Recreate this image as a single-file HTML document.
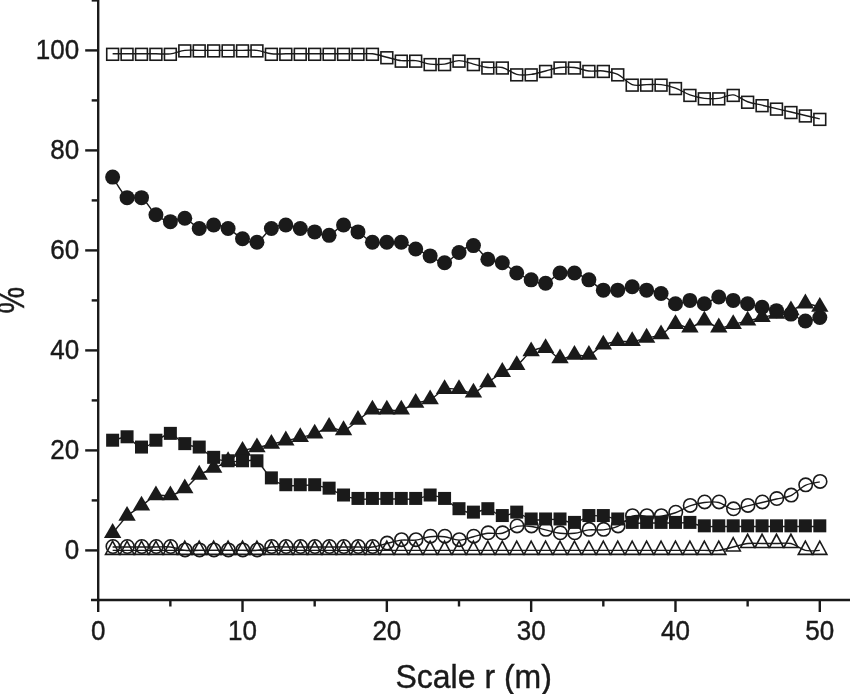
<!DOCTYPE html>
<html><head><meta charset="utf-8"><title>Scale r (m)</title>
<style>html,body{margin:0;padding:0;background:#fff}svg{display:block}text{font-family:"Liberation Sans",sans-serif;fill:#1a1a1a}.t{stroke:#1a1a1a;stroke-width:.4px}</style>
</head><body>
<svg width="850" height="694" viewBox="0 0 850 694">
<rect width="850" height="694" fill="#fff"/>
<path d="M112.63 53.82C115.04 53.82 122.25 53.82 127.06 53.82C131.87 53.82 136.69 53.82 141.50 53.82C146.31 53.82 151.12 53.82 155.93 53.82C160.74 53.82 165.55 54.40 170.36 53.82C175.17 53.25 179.98 50.97 184.79 50.40C189.60 49.83 194.41 50.40 199.22 50.40C204.03 50.40 208.85 50.40 213.66 50.40C218.47 50.40 223.28 50.40 228.09 50.40C232.90 50.40 237.71 50.40 242.52 50.40C247.33 50.40 252.14 49.83 256.95 50.40C261.76 50.97 266.57 53.25 271.38 53.82C276.19 54.40 281.01 53.82 285.82 53.82C290.63 53.82 295.44 53.82 300.25 53.82C305.06 53.82 309.87 53.82 314.68 53.82C319.49 53.82 324.30 53.82 329.11 53.82C333.92 53.82 338.73 53.82 343.54 53.82C348.35 53.82 353.17 53.82 357.98 53.82C362.79 53.82 367.60 53.25 372.41 53.82C377.22 54.40 382.03 56.11 386.84 57.25C391.65 58.39 396.46 60.10 401.27 60.67C406.08 61.24 410.89 60.10 415.70 60.67C420.51 61.24 425.33 63.53 430.14 64.10C434.95 64.67 439.76 64.67 444.57 64.10C449.38 63.53 454.19 60.67 459.00 60.67C463.81 60.67 468.62 62.96 473.43 64.10C478.24 65.24 483.05 66.95 487.86 67.52C492.67 68.09 497.49 66.38 502.30 67.52C507.11 68.66 511.92 73.23 516.73 74.37C521.54 75.51 526.35 74.94 531.16 74.37C535.97 73.80 540.78 72.09 545.59 70.95C550.40 69.81 555.21 68.09 560.02 67.52C564.83 66.95 569.65 66.95 574.46 67.52C579.27 68.09 584.08 70.38 588.89 70.95C593.70 71.52 598.51 70.38 603.32 70.95C608.13 71.52 612.94 72.09 617.75 74.37C622.56 76.66 627.37 82.93 632.18 84.65C636.99 86.36 641.81 84.65 646.62 84.65C651.43 84.65 656.24 84.08 661.05 84.65C665.86 85.22 670.67 86.36 675.48 88.07C680.29 89.78 685.10 93.21 689.91 94.92C694.72 96.63 699.53 97.77 704.34 98.35C709.15 98.92 713.97 98.92 718.78 98.35C723.59 97.77 728.40 94.35 733.21 94.92C738.02 95.49 742.83 100.06 747.64 101.77C752.45 103.48 757.26 104.05 762.07 105.19C766.88 106.34 771.69 107.48 776.50 108.62C781.31 109.76 786.13 110.90 790.94 112.04C795.75 113.19 800.56 114.33 805.37 115.47C810.18 116.61 817.39 118.32 819.80 118.89" fill="none" stroke="#1a1a1a" stroke-width="1.4"/>
<g fill="none" stroke="#1a1a1a" stroke-width="1.6"><rect x="106.73" y="48.42" width="11.8" height="11.8"/><rect x="121.16" y="48.42" width="11.8" height="11.8"/><rect x="135.60" y="48.42" width="11.8" height="11.8"/><rect x="150.03" y="48.42" width="11.8" height="11.8"/><rect x="164.46" y="48.42" width="11.8" height="11.8"/><rect x="178.89" y="45.00" width="11.8" height="11.8"/><rect x="193.32" y="45.00" width="11.8" height="11.8"/><rect x="207.76" y="45.00" width="11.8" height="11.8"/><rect x="222.19" y="45.00" width="11.8" height="11.8"/><rect x="236.62" y="45.00" width="11.8" height="11.8"/><rect x="251.05" y="45.00" width="11.8" height="11.8"/><rect x="265.48" y="48.42" width="11.8" height="11.8"/><rect x="279.92" y="48.42" width="11.8" height="11.8"/><rect x="294.35" y="48.42" width="11.8" height="11.8"/><rect x="308.78" y="48.42" width="11.8" height="11.8"/><rect x="323.21" y="48.42" width="11.8" height="11.8"/><rect x="337.64" y="48.42" width="11.8" height="11.8"/><rect x="352.08" y="48.42" width="11.8" height="11.8"/><rect x="366.51" y="48.42" width="11.8" height="11.8"/><rect x="380.94" y="51.85" width="11.8" height="11.8"/><rect x="395.37" y="55.27" width="11.8" height="11.8"/><rect x="409.80" y="55.27" width="11.8" height="11.8"/><rect x="424.24" y="58.70" width="11.8" height="11.8"/><rect x="438.67" y="58.70" width="11.8" height="11.8"/><rect x="453.10" y="55.27" width="11.8" height="11.8"/><rect x="467.53" y="58.70" width="11.8" height="11.8"/><rect x="481.96" y="62.12" width="11.8" height="11.8"/><rect x="496.40" y="62.12" width="11.8" height="11.8"/><rect x="510.83" y="68.97" width="11.8" height="11.8"/><rect x="525.26" y="68.97" width="11.8" height="11.8"/><rect x="539.69" y="65.55" width="11.8" height="11.8"/><rect x="554.12" y="62.12" width="11.8" height="11.8"/><rect x="568.56" y="62.12" width="11.8" height="11.8"/><rect x="582.99" y="65.55" width="11.8" height="11.8"/><rect x="597.42" y="65.55" width="11.8" height="11.8"/><rect x="611.85" y="68.97" width="11.8" height="11.8"/><rect x="626.28" y="79.25" width="11.8" height="11.8"/><rect x="640.72" y="79.25" width="11.8" height="11.8"/><rect x="655.15" y="79.25" width="11.8" height="11.8"/><rect x="669.58" y="82.67" width="11.8" height="11.8"/><rect x="684.01" y="89.52" width="11.8" height="11.8"/><rect x="698.44" y="92.95" width="11.8" height="11.8"/><rect x="712.88" y="92.95" width="11.8" height="11.8"/><rect x="727.31" y="89.52" width="11.8" height="11.8"/><rect x="741.74" y="96.37" width="11.8" height="11.8"/><rect x="756.17" y="99.79" width="11.8" height="11.8"/><rect x="770.60" y="103.22" width="11.8" height="11.8"/><rect x="785.04" y="106.64" width="11.8" height="11.8"/><rect x="799.47" y="110.07" width="11.8" height="11.8"/><rect x="813.90" y="113.49" width="11.8" height="11.8"/></g>
<path d="M112.63 546.98C115.04 546.98 122.25 546.98 127.06 546.98C131.87 546.98 136.69 546.98 141.50 546.98C146.31 546.98 151.12 546.98 155.93 546.98C160.74 546.98 165.55 546.40 170.36 546.98C175.17 547.55 179.98 549.83 184.79 550.40C189.60 550.97 194.41 550.40 199.22 550.40C204.03 550.40 208.85 550.40 213.66 550.40C218.47 550.40 223.28 550.40 228.09 550.40C232.90 550.40 237.71 550.40 242.52 550.40C247.33 550.40 252.14 550.97 256.95 550.40C261.76 549.83 266.57 547.55 271.38 546.98C276.19 546.40 281.01 546.98 285.82 546.98C290.63 546.98 295.44 546.98 300.25 546.98C305.06 546.98 309.87 546.98 314.68 546.98C319.49 546.98 324.30 546.98 329.11 546.98C333.92 546.98 338.73 546.98 343.54 546.98C348.35 546.98 353.17 546.98 357.98 546.98C362.79 546.98 367.60 547.55 372.41 546.98C377.22 546.40 382.03 544.69 386.84 543.55C391.65 542.41 396.46 540.70 401.27 540.13C406.08 539.56 410.89 540.70 415.70 540.13C420.51 539.56 425.33 537.27 430.14 536.70C434.95 536.13 439.76 536.13 444.57 536.70C449.38 537.27 454.19 540.13 459.00 540.13C463.81 540.13 468.62 537.84 473.43 536.70C478.24 535.56 483.05 533.85 487.86 533.28C492.67 532.71 497.49 534.42 502.30 533.28C507.11 532.14 511.92 527.57 516.73 526.43C521.54 525.29 526.35 525.86 531.16 526.43C535.97 527.00 540.78 528.71 545.59 529.85C550.40 530.99 555.21 532.71 560.02 533.28C564.83 533.85 569.65 533.85 574.46 533.28C579.27 532.71 584.08 530.42 588.89 529.85C593.70 529.28 598.51 530.42 603.32 529.85C608.13 529.28 612.94 528.71 617.75 526.43C622.56 524.14 627.37 517.87 632.18 516.15C636.99 514.44 641.81 516.15 646.62 516.15C651.43 516.15 656.24 516.72 661.05 516.15C665.86 515.58 670.67 514.44 675.48 512.73C680.29 511.02 685.10 507.59 689.91 505.88C694.72 504.17 699.53 503.03 704.34 502.45C709.15 501.88 713.97 501.31 718.78 502.45C723.59 503.60 728.40 508.73 733.21 509.30C738.02 509.87 742.83 507.02 747.64 505.88C752.45 504.74 757.26 503.60 762.07 502.45C766.88 501.31 771.69 500.17 776.50 499.03C781.31 497.89 786.13 497.89 790.94 495.61C795.75 493.32 800.56 487.61 805.37 485.33C810.18 483.05 817.39 482.48 819.80 481.91" fill="none" stroke="#1a1a1a" stroke-width="1.4"/>
<g fill="none" stroke="#1a1a1a" stroke-width="1.6"><circle cx="112.93" cy="546.48" r="6.7"/><circle cx="127.36" cy="546.48" r="6.7"/><circle cx="141.80" cy="546.48" r="6.7"/><circle cx="156.23" cy="546.48" r="6.7"/><circle cx="170.66" cy="546.48" r="6.7"/><circle cx="185.09" cy="549.90" r="6.7"/><circle cx="199.52" cy="549.90" r="6.7"/><circle cx="213.96" cy="549.90" r="6.7"/><circle cx="228.39" cy="549.90" r="6.7"/><circle cx="242.82" cy="549.90" r="6.7"/><circle cx="257.25" cy="549.90" r="6.7"/><circle cx="271.68" cy="546.48" r="6.7"/><circle cx="286.12" cy="546.48" r="6.7"/><circle cx="300.55" cy="546.48" r="6.7"/><circle cx="314.98" cy="546.48" r="6.7"/><circle cx="329.41" cy="546.48" r="6.7"/><circle cx="343.84" cy="546.48" r="6.7"/><circle cx="358.28" cy="546.48" r="6.7"/><circle cx="372.71" cy="546.48" r="6.7"/><circle cx="387.14" cy="543.05" r="6.7"/><circle cx="401.57" cy="539.63" r="6.7"/><circle cx="416.00" cy="539.63" r="6.7"/><circle cx="430.44" cy="536.20" r="6.7"/><circle cx="444.87" cy="536.20" r="6.7"/><circle cx="459.30" cy="539.63" r="6.7"/><circle cx="473.73" cy="536.20" r="6.7"/><circle cx="488.16" cy="532.78" r="6.7"/><circle cx="502.60" cy="532.78" r="6.7"/><circle cx="517.03" cy="525.93" r="6.7"/><circle cx="531.46" cy="525.93" r="6.7"/><circle cx="545.89" cy="529.35" r="6.7"/><circle cx="560.32" cy="532.78" r="6.7"/><circle cx="574.76" cy="532.78" r="6.7"/><circle cx="589.19" cy="529.35" r="6.7"/><circle cx="603.62" cy="529.35" r="6.7"/><circle cx="618.05" cy="525.93" r="6.7"/><circle cx="632.48" cy="515.65" r="6.7"/><circle cx="646.92" cy="515.65" r="6.7"/><circle cx="661.35" cy="515.65" r="6.7"/><circle cx="675.78" cy="512.23" r="6.7"/><circle cx="690.21" cy="505.38" r="6.7"/><circle cx="704.64" cy="501.95" r="6.7"/><circle cx="719.08" cy="501.95" r="6.7"/><circle cx="733.51" cy="508.80" r="6.7"/><circle cx="747.94" cy="505.38" r="6.7"/><circle cx="762.37" cy="501.95" r="6.7"/><circle cx="776.80" cy="498.53" r="6.7"/><circle cx="791.24" cy="495.11" r="6.7"/><circle cx="805.67" cy="484.83" r="6.7"/><circle cx="820.10" cy="481.41" r="6.7"/></g>
<path d="M112.63 550.40C115.04 550.40 122.25 550.40 127.06 550.40C131.87 550.40 136.69 550.40 141.50 550.40C146.31 550.40 151.12 550.40 155.93 550.40C160.74 550.40 165.55 550.40 170.36 550.40C175.17 550.40 179.98 550.40 184.79 550.40C189.60 550.40 194.41 550.40 199.22 550.40C204.03 550.40 208.85 550.40 213.66 550.40C218.47 550.40 223.28 550.40 228.09 550.40C232.90 550.40 237.71 550.40 242.52 550.40C247.33 550.40 252.14 550.40 256.95 550.40C261.76 550.40 266.57 550.40 271.38 550.40C276.19 550.40 281.01 550.40 285.82 550.40C290.63 550.40 295.44 550.40 300.25 550.40C305.06 550.40 309.87 550.40 314.68 550.40C319.49 550.40 324.30 550.40 329.11 550.40C333.92 550.40 338.73 550.40 343.54 550.40C348.35 550.40 353.17 550.40 357.98 550.40C362.79 550.40 367.60 550.40 372.41 550.40C377.22 550.40 382.03 550.40 386.84 550.40C391.65 550.40 396.46 550.40 401.27 550.40C406.08 550.40 410.89 550.40 415.70 550.40C420.51 550.40 425.33 550.40 430.14 550.40C434.95 550.40 439.76 550.40 444.57 550.40C449.38 550.40 454.19 550.40 459.00 550.40C463.81 550.40 468.62 550.40 473.43 550.40C478.24 550.40 483.05 550.40 487.86 550.40C492.67 550.40 497.49 550.40 502.30 550.40C507.11 550.40 511.92 550.40 516.73 550.40C521.54 550.40 526.35 550.40 531.16 550.40C535.97 550.40 540.78 550.40 545.59 550.40C550.40 550.40 555.21 550.40 560.02 550.40C564.83 550.40 569.65 550.40 574.46 550.40C579.27 550.40 584.08 550.40 588.89 550.40C593.70 550.40 598.51 550.40 603.32 550.40C608.13 550.40 612.94 550.40 617.75 550.40C622.56 550.40 627.37 550.40 632.18 550.40C636.99 550.40 641.81 550.40 646.62 550.40C651.43 550.40 656.24 550.40 661.05 550.40C665.86 550.40 670.67 550.40 675.48 550.40C680.29 550.40 685.10 550.40 689.91 550.40C694.72 550.40 699.53 550.40 704.34 550.40C709.15 550.40 713.97 550.97 718.78 550.40C723.59 549.83 728.40 548.12 733.21 546.98C738.02 545.83 742.83 544.12 747.64 543.55C752.45 542.98 757.26 543.55 762.07 543.55C766.88 543.55 771.69 543.55 776.50 543.55C781.31 543.55 786.13 542.41 790.94 543.55C795.75 544.69 800.56 549.26 805.37 550.40C810.18 551.54 817.39 550.40 819.80 550.40" fill="none" stroke="#1a1a1a" stroke-width="1.4"/>
<g fill="none" stroke="#1a1a1a" stroke-width="1.6"><polygon points="112.63,541.10 105.53,554.40 119.73,554.40"/><polygon points="127.06,541.10 119.96,554.40 134.16,554.40"/><polygon points="141.50,541.10 134.40,554.40 148.60,554.40"/><polygon points="155.93,541.10 148.83,554.40 163.03,554.40"/><polygon points="170.36,541.10 163.26,554.40 177.46,554.40"/><polygon points="184.79,541.10 177.69,554.40 191.89,554.40"/><polygon points="199.22,541.10 192.12,554.40 206.32,554.40"/><polygon points="213.66,541.10 206.56,554.40 220.76,554.40"/><polygon points="228.09,541.10 220.99,554.40 235.19,554.40"/><polygon points="242.52,541.10 235.42,554.40 249.62,554.40"/><polygon points="256.95,541.10 249.85,554.40 264.05,554.40"/><polygon points="271.38,541.10 264.28,554.40 278.48,554.40"/><polygon points="285.82,541.10 278.72,554.40 292.92,554.40"/><polygon points="300.25,541.10 293.15,554.40 307.35,554.40"/><polygon points="314.68,541.10 307.58,554.40 321.78,554.40"/><polygon points="329.11,541.10 322.01,554.40 336.21,554.40"/><polygon points="343.54,541.10 336.44,554.40 350.64,554.40"/><polygon points="357.98,541.10 350.88,554.40 365.08,554.40"/><polygon points="372.41,541.10 365.31,554.40 379.51,554.40"/><polygon points="386.84,541.10 379.74,554.40 393.94,554.40"/><polygon points="401.27,541.10 394.17,554.40 408.37,554.40"/><polygon points="415.70,541.10 408.60,554.40 422.80,554.40"/><polygon points="430.14,541.10 423.04,554.40 437.24,554.40"/><polygon points="444.57,541.10 437.47,554.40 451.67,554.40"/><polygon points="459.00,541.10 451.90,554.40 466.10,554.40"/><polygon points="473.43,541.10 466.33,554.40 480.53,554.40"/><polygon points="487.86,541.10 480.76,554.40 494.96,554.40"/><polygon points="502.30,541.10 495.20,554.40 509.40,554.40"/><polygon points="516.73,541.10 509.63,554.40 523.83,554.40"/><polygon points="531.16,541.10 524.06,554.40 538.26,554.40"/><polygon points="545.59,541.10 538.49,554.40 552.69,554.40"/><polygon points="560.02,541.10 552.92,554.40 567.12,554.40"/><polygon points="574.46,541.10 567.36,554.40 581.56,554.40"/><polygon points="588.89,541.10 581.79,554.40 595.99,554.40"/><polygon points="603.32,541.10 596.22,554.40 610.42,554.40"/><polygon points="617.75,541.10 610.65,554.40 624.85,554.40"/><polygon points="632.18,541.10 625.08,554.40 639.28,554.40"/><polygon points="646.62,541.10 639.52,554.40 653.72,554.40"/><polygon points="661.05,541.10 653.95,554.40 668.15,554.40"/><polygon points="675.48,541.10 668.38,554.40 682.58,554.40"/><polygon points="689.91,541.10 682.81,554.40 697.01,554.40"/><polygon points="704.34,541.10 697.24,554.40 711.44,554.40"/><polygon points="718.78,541.10 711.68,554.40 725.88,554.40"/><polygon points="733.21,537.68 726.11,550.98 740.31,550.98"/><polygon points="747.64,534.25 740.54,547.55 754.74,547.55"/><polygon points="762.07,534.25 754.97,547.55 769.17,547.55"/><polygon points="776.50,534.25 769.40,547.55 783.60,547.55"/><polygon points="790.94,534.25 783.84,547.55 798.04,547.55"/><polygon points="805.37,541.10 798.27,554.40 812.47,554.40"/><polygon points="819.80,541.10 812.70,554.40 826.90,554.40"/></g>
<path d="M112.63 177.11C115.04 180.54 122.25 194.24 127.06 197.66C131.87 201.08 136.69 194.81 141.50 197.66C146.31 200.51 151.12 210.79 155.93 214.78C160.74 218.78 165.55 221.06 170.36 221.63C175.17 222.20 179.98 217.07 184.79 218.21C189.60 219.35 194.41 227.34 199.22 228.48C204.03 229.62 208.85 225.06 213.66 225.06C218.47 225.06 223.28 226.20 228.09 228.48C232.90 230.77 237.71 236.47 242.52 238.76C247.33 241.04 252.14 243.89 256.95 242.18C261.76 240.47 266.57 231.34 271.38 228.48C276.19 225.63 281.01 225.06 285.82 225.06C290.63 225.06 295.44 227.34 300.25 228.48C305.06 229.62 309.87 230.77 314.68 231.91C319.49 233.05 324.30 236.47 329.11 235.33C333.92 234.19 338.73 225.63 343.54 225.06C348.35 224.49 353.17 229.05 357.98 231.91C362.79 234.76 367.60 240.47 372.41 242.18C377.22 243.89 382.03 242.18 386.84 242.18C391.65 242.18 396.46 241.04 401.27 242.18C406.08 243.32 410.89 246.75 415.70 249.03C420.51 251.31 425.33 253.60 430.14 255.88C434.95 258.16 439.76 263.30 444.57 262.73C449.38 262.16 454.19 255.31 459.00 252.45C463.81 249.60 468.62 244.46 473.43 245.61C478.24 246.75 483.05 256.45 487.86 259.30C492.67 262.16 497.49 260.45 502.30 262.73C507.11 265.01 511.92 270.15 516.73 273.00C521.54 275.86 526.35 278.14 531.16 279.85C535.97 281.56 540.78 284.42 545.59 283.28C550.40 282.14 555.21 274.72 560.02 273.00C564.83 271.29 569.65 271.86 574.46 273.00C579.27 274.14 584.08 277.00 588.89 279.85C593.70 282.71 598.51 288.41 603.32 290.13C608.13 291.84 612.94 290.70 617.75 290.13C622.56 289.56 627.37 286.70 632.18 286.70C636.99 286.70 641.81 288.98 646.62 290.13C651.43 291.27 656.24 291.27 661.05 293.55C665.86 295.83 670.67 302.68 675.48 303.82C680.29 304.97 685.10 300.40 689.91 300.40C694.72 300.40 699.53 304.40 704.34 303.82C709.15 303.25 713.97 297.55 718.78 296.98C723.59 296.40 728.40 299.26 733.21 300.40C738.02 301.54 742.83 302.68 747.64 303.82C752.45 304.97 757.26 306.11 762.07 307.25C766.88 308.39 771.69 309.53 776.50 310.67C781.31 311.82 786.13 312.39 790.94 314.10C795.75 315.81 800.56 320.38 805.37 320.95C810.18 321.52 817.39 318.09 819.80 317.52" fill="none" stroke="#1a1a1a" stroke-width="1.4"/>
<g fill="#1a1a1a"><circle cx="112.63" cy="177.11" r="7.5"/><circle cx="127.06" cy="197.66" r="7.5"/><circle cx="141.50" cy="197.66" r="7.5"/><circle cx="155.93" cy="214.78" r="7.5"/><circle cx="170.36" cy="221.63" r="7.5"/><circle cx="184.79" cy="218.21" r="7.5"/><circle cx="199.22" cy="228.48" r="7.5"/><circle cx="213.66" cy="225.06" r="7.5"/><circle cx="228.09" cy="228.48" r="7.5"/><circle cx="242.52" cy="238.76" r="7.5"/><circle cx="256.95" cy="242.18" r="7.5"/><circle cx="271.38" cy="228.48" r="7.5"/><circle cx="285.82" cy="225.06" r="7.5"/><circle cx="300.25" cy="228.48" r="7.5"/><circle cx="314.68" cy="231.91" r="7.5"/><circle cx="329.11" cy="235.33" r="7.5"/><circle cx="343.54" cy="225.06" r="7.5"/><circle cx="357.98" cy="231.91" r="7.5"/><circle cx="372.41" cy="242.18" r="7.5"/><circle cx="386.84" cy="242.18" r="7.5"/><circle cx="401.27" cy="242.18" r="7.5"/><circle cx="415.70" cy="249.03" r="7.5"/><circle cx="430.14" cy="255.88" r="7.5"/><circle cx="444.57" cy="262.73" r="7.5"/><circle cx="459.00" cy="252.45" r="7.5"/><circle cx="473.43" cy="245.61" r="7.5"/><circle cx="487.86" cy="259.30" r="7.5"/><circle cx="502.30" cy="262.73" r="7.5"/><circle cx="516.73" cy="273.00" r="7.5"/><circle cx="531.16" cy="279.85" r="7.5"/><circle cx="545.59" cy="283.28" r="7.5"/><circle cx="560.02" cy="273.00" r="7.5"/><circle cx="574.46" cy="273.00" r="7.5"/><circle cx="588.89" cy="279.85" r="7.5"/><circle cx="603.32" cy="290.13" r="7.5"/><circle cx="617.75" cy="290.13" r="7.5"/><circle cx="632.18" cy="286.70" r="7.5"/><circle cx="646.62" cy="290.13" r="7.5"/><circle cx="661.05" cy="293.55" r="7.5"/><circle cx="675.48" cy="303.82" r="7.5"/><circle cx="689.91" cy="300.40" r="7.5"/><circle cx="704.34" cy="303.82" r="7.5"/><circle cx="718.78" cy="296.98" r="7.5"/><circle cx="733.21" cy="300.40" r="7.5"/><circle cx="747.64" cy="303.82" r="7.5"/><circle cx="762.07" cy="307.25" r="7.5"/><circle cx="776.50" cy="310.67" r="7.5"/><circle cx="790.94" cy="314.10" r="7.5"/><circle cx="805.37" cy="320.95" r="7.5"/><circle cx="819.80" cy="317.52" r="7.5"/></g>
<path d="M112.63 533.28C115.04 530.42 122.25 520.72 127.06 516.15C131.87 511.59 136.69 509.30 141.50 505.88C146.31 502.45 151.12 497.32 155.93 495.61C160.74 493.89 165.55 496.75 170.36 495.61C175.17 494.46 179.98 492.18 184.79 488.76C189.60 485.33 194.41 478.48 199.22 475.06C204.03 471.63 208.85 470.49 213.66 468.21C218.47 465.93 223.28 464.21 228.09 461.36C232.90 458.51 237.71 453.37 242.52 451.08C247.33 448.80 252.14 448.80 256.95 447.66C261.76 446.52 266.57 445.38 271.38 444.24C276.19 443.09 281.01 441.95 285.82 440.81C290.63 439.67 295.44 438.53 300.25 437.39C305.06 436.24 309.87 435.67 314.68 433.96C319.49 432.25 324.30 427.68 329.11 427.11C333.92 426.54 338.73 431.68 343.54 430.54C348.35 429.40 353.17 423.69 357.98 420.26C362.79 416.84 367.60 411.70 372.41 409.99C377.22 408.28 382.03 409.99 386.84 409.99C391.65 409.99 396.46 411.13 401.27 409.99C406.08 408.85 410.89 404.85 415.70 403.14C420.51 401.43 425.33 402.00 430.14 399.72C434.95 397.43 439.76 391.15 444.57 389.44C449.38 387.73 454.19 388.87 459.00 389.44C463.81 390.01 468.62 394.01 473.43 392.87C478.24 391.72 483.05 386.02 487.86 382.59C492.67 379.17 497.49 375.17 502.30 372.32C507.11 369.46 511.92 368.89 516.73 365.47C521.54 362.04 526.35 354.62 531.16 351.77C535.97 348.92 540.78 347.20 545.59 348.35C550.40 349.49 555.21 357.48 560.02 358.62C564.83 359.76 569.65 355.77 574.46 355.19C579.27 354.62 584.08 356.91 588.89 355.19C593.70 353.48 598.51 347.20 603.32 344.92C608.13 342.64 612.94 342.07 617.75 341.50C622.56 340.93 627.37 342.07 632.18 341.50C636.99 340.93 641.81 339.21 646.62 338.07C651.43 336.93 656.24 336.93 661.05 334.65C665.86 332.36 670.67 325.51 675.48 324.37C680.29 323.23 685.10 328.37 689.91 327.80C694.72 327.23 699.53 320.95 704.34 320.95C709.15 320.95 713.97 327.23 718.78 327.80C723.59 328.37 728.40 325.51 733.21 324.37C738.02 323.23 742.83 322.09 747.64 320.95C752.45 319.81 757.26 318.66 762.07 317.52C766.88 316.38 771.69 315.24 776.50 314.10C781.31 312.96 786.13 312.39 790.94 310.67C795.75 308.96 800.56 304.40 805.37 303.82C810.18 303.25 817.39 306.68 819.80 307.25" fill="none" stroke="#1a1a1a" stroke-width="1.4"/>
<g fill="#1a1a1a"><polygon points="112.63,523.08 103.93,537.88 121.33,537.88"/><polygon points="127.06,505.95 118.36,520.75 135.76,520.75"/><polygon points="141.50,495.68 132.80,510.48 150.20,510.48"/><polygon points="155.93,485.41 147.23,500.21 164.63,500.21"/><polygon points="170.36,485.41 161.66,500.21 179.06,500.21"/><polygon points="184.79,478.56 176.09,493.36 193.49,493.36"/><polygon points="199.22,464.86 190.52,479.66 207.92,479.66"/><polygon points="213.66,458.01 204.96,472.81 222.36,472.81"/><polygon points="228.09,451.16 219.39,465.96 236.79,465.96"/><polygon points="242.52,440.88 233.82,455.68 251.22,455.68"/><polygon points="256.95,437.46 248.25,452.26 265.65,452.26"/><polygon points="271.38,434.04 262.68,448.84 280.08,448.84"/><polygon points="285.82,430.61 277.12,445.41 294.52,445.41"/><polygon points="300.25,427.19 291.55,441.99 308.95,441.99"/><polygon points="314.68,423.76 305.98,438.56 323.38,438.56"/><polygon points="329.11,416.91 320.41,431.71 337.81,431.71"/><polygon points="343.54,420.34 334.84,435.14 352.24,435.14"/><polygon points="357.98,410.06 349.28,424.86 366.68,424.86"/><polygon points="372.41,399.79 363.71,414.59 381.11,414.59"/><polygon points="386.84,399.79 378.14,414.59 395.54,414.59"/><polygon points="401.27,399.79 392.57,414.59 409.97,414.59"/><polygon points="415.70,392.94 407.00,407.74 424.40,407.74"/><polygon points="430.14,389.52 421.44,404.32 438.84,404.32"/><polygon points="444.57,379.24 435.87,394.04 453.27,394.04"/><polygon points="459.00,379.24 450.30,394.04 467.70,394.04"/><polygon points="473.43,382.67 464.73,397.47 482.13,397.47"/><polygon points="487.86,372.39 479.16,387.19 496.56,387.19"/><polygon points="502.30,362.12 493.60,376.92 511.00,376.92"/><polygon points="516.73,355.27 508.03,370.07 525.43,370.07"/><polygon points="531.16,341.57 522.46,356.37 539.86,356.37"/><polygon points="545.59,338.15 536.89,352.95 554.29,352.95"/><polygon points="560.02,348.42 551.32,363.22 568.72,363.22"/><polygon points="574.46,344.99 565.76,359.79 583.16,359.79"/><polygon points="588.89,344.99 580.19,359.79 597.59,359.79"/><polygon points="603.32,334.72 594.62,349.52 612.02,349.52"/><polygon points="617.75,331.30 609.05,346.10 626.45,346.10"/><polygon points="632.18,331.30 623.48,346.10 640.88,346.10"/><polygon points="646.62,327.87 637.92,342.67 655.32,342.67"/><polygon points="661.05,324.45 652.35,339.25 669.75,339.25"/><polygon points="675.48,314.17 666.78,328.97 684.18,328.97"/><polygon points="689.91,317.60 681.21,332.40 698.61,332.40"/><polygon points="704.34,310.75 695.64,325.55 713.04,325.55"/><polygon points="718.78,317.60 710.08,332.40 727.48,332.40"/><polygon points="733.21,314.17 724.51,328.97 741.91,328.97"/><polygon points="747.64,310.75 738.94,325.55 756.34,325.55"/><polygon points="762.07,307.32 753.37,322.12 770.77,322.12"/><polygon points="776.50,303.90 767.80,318.70 785.20,318.70"/><polygon points="790.94,300.47 782.24,315.27 799.64,315.27"/><polygon points="805.37,293.62 796.67,308.42 814.07,308.42"/><polygon points="819.80,297.05 811.10,311.85 828.50,311.85"/></g>
<path d="M112.63 440.81C115.04 440.24 122.25 436.24 127.06 437.39C131.87 438.53 136.69 447.09 141.50 447.66C146.31 448.23 151.12 443.09 155.93 440.81C160.74 438.53 165.55 433.39 170.36 433.96C175.17 434.53 179.98 441.95 184.79 444.24C189.60 446.52 194.41 445.38 199.22 447.66C204.03 449.94 208.85 455.65 213.66 457.93C218.47 460.22 223.28 460.79 228.09 461.36C232.90 461.93 237.71 461.36 242.52 461.36C247.33 461.36 252.14 458.51 256.95 461.36C261.76 464.21 266.57 474.49 271.38 478.48C276.19 482.48 281.01 484.19 285.82 485.33C290.63 486.47 295.44 485.33 300.25 485.33C305.06 485.33 309.87 484.76 314.68 485.33C319.49 485.90 324.30 487.04 329.11 488.76C333.92 490.47 338.73 493.89 343.54 495.61C348.35 497.32 353.17 498.46 357.98 499.03C362.79 499.60 367.60 499.03 372.41 499.03C377.22 499.03 382.03 499.03 386.84 499.03C391.65 499.03 396.46 499.03 401.27 499.03C406.08 499.03 410.89 499.60 415.70 499.03C420.51 498.46 425.33 495.61 430.14 495.61C434.95 495.61 439.76 496.75 444.57 499.03C449.38 501.31 454.19 507.02 459.00 509.30C463.81 511.59 468.62 512.73 473.43 512.73C478.24 512.73 483.05 508.73 487.86 509.30C492.67 509.87 497.49 515.58 502.30 516.15C507.11 516.72 511.92 512.16 516.73 512.73C521.54 513.30 526.35 518.44 531.16 519.58C535.97 520.72 540.78 519.58 545.59 519.58C550.40 519.58 555.21 519.01 560.02 519.58C564.83 520.15 569.65 523.57 574.46 523.00C579.27 522.43 584.08 517.29 588.89 516.15C593.70 515.01 598.51 515.58 603.32 516.15C608.13 516.72 612.94 518.44 617.75 519.58C622.56 520.72 627.37 522.43 632.18 523.00C636.99 523.57 641.81 523.00 646.62 523.00C651.43 523.00 656.24 523.00 661.05 523.00C665.86 523.00 670.67 523.00 675.48 523.00C680.29 523.00 685.10 522.43 689.91 523.00C694.72 523.57 699.53 525.86 704.34 526.43C709.15 527.00 713.97 526.43 718.78 526.43C723.59 526.43 728.40 526.43 733.21 526.43C738.02 526.43 742.83 526.43 747.64 526.43C752.45 526.43 757.26 526.43 762.07 526.43C766.88 526.43 771.69 526.43 776.50 526.43C781.31 526.43 786.13 526.43 790.94 526.43C795.75 526.43 800.56 526.43 805.37 526.43C810.18 526.43 817.39 526.43 819.80 526.43" fill="none" stroke="#1a1a1a" stroke-width="1.4"/>
<g fill="#1a1a1a"><rect x="106.13" y="433.71" width="13.0" height="13.0"/><rect x="120.56" y="430.29" width="13.0" height="13.0"/><rect x="135.00" y="440.56" width="13.0" height="13.0"/><rect x="149.43" y="433.71" width="13.0" height="13.0"/><rect x="163.86" y="426.86" width="13.0" height="13.0"/><rect x="178.29" y="437.14" width="13.0" height="13.0"/><rect x="192.72" y="440.56" width="13.0" height="13.0"/><rect x="207.16" y="450.83" width="13.0" height="13.0"/><rect x="221.59" y="454.26" width="13.0" height="13.0"/><rect x="236.02" y="454.26" width="13.0" height="13.0"/><rect x="250.45" y="454.26" width="13.0" height="13.0"/><rect x="264.88" y="471.38" width="13.0" height="13.0"/><rect x="279.32" y="478.23" width="13.0" height="13.0"/><rect x="293.75" y="478.23" width="13.0" height="13.0"/><rect x="308.18" y="478.23" width="13.0" height="13.0"/><rect x="322.61" y="481.66" width="13.0" height="13.0"/><rect x="337.04" y="488.51" width="13.0" height="13.0"/><rect x="351.48" y="491.93" width="13.0" height="13.0"/><rect x="365.91" y="491.93" width="13.0" height="13.0"/><rect x="380.34" y="491.93" width="13.0" height="13.0"/><rect x="394.77" y="491.93" width="13.0" height="13.0"/><rect x="409.20" y="491.93" width="13.0" height="13.0"/><rect x="423.64" y="488.51" width="13.0" height="13.0"/><rect x="438.07" y="491.93" width="13.0" height="13.0"/><rect x="452.50" y="502.20" width="13.0" height="13.0"/><rect x="466.93" y="505.63" width="13.0" height="13.0"/><rect x="481.36" y="502.20" width="13.0" height="13.0"/><rect x="495.80" y="509.05" width="13.0" height="13.0"/><rect x="510.23" y="505.63" width="13.0" height="13.0"/><rect x="524.66" y="512.48" width="13.0" height="13.0"/><rect x="539.09" y="512.48" width="13.0" height="13.0"/><rect x="553.52" y="512.48" width="13.0" height="13.0"/><rect x="567.96" y="515.90" width="13.0" height="13.0"/><rect x="582.39" y="509.05" width="13.0" height="13.0"/><rect x="596.82" y="509.05" width="13.0" height="13.0"/><rect x="611.25" y="512.48" width="13.0" height="13.0"/><rect x="625.68" y="515.90" width="13.0" height="13.0"/><rect x="640.12" y="515.90" width="13.0" height="13.0"/><rect x="654.55" y="515.90" width="13.0" height="13.0"/><rect x="668.98" y="515.90" width="13.0" height="13.0"/><rect x="683.41" y="515.90" width="13.0" height="13.0"/><rect x="697.84" y="519.33" width="13.0" height="13.0"/><rect x="712.28" y="519.33" width="13.0" height="13.0"/><rect x="726.71" y="519.33" width="13.0" height="13.0"/><rect x="741.14" y="519.33" width="13.0" height="13.0"/><rect x="755.57" y="519.33" width="13.0" height="13.0"/><rect x="770.00" y="519.33" width="13.0" height="13.0"/><rect x="784.44" y="519.33" width="13.0" height="13.0"/><rect x="798.87" y="519.33" width="13.0" height="13.0"/><rect x="813.30" y="519.33" width="13.0" height="13.0"/></g>
<g stroke="#1a1a1a" stroke-width="2.4"><line x1="98.20" y1="-2" x2="98.20" y2="601.20"/>
<line x1="91.00" y1="600" x2="852" y2="600"/>
<line x1="85.20" y1="550.40" x2="98.20" y2="550.40"/>
<line x1="91.70" y1="500.40" x2="98.20" y2="500.40"/>
<line x1="85.20" y1="450.40" x2="98.20" y2="450.40"/>
<line x1="91.70" y1="400.40" x2="98.20" y2="400.40"/>
<line x1="85.20" y1="350.40" x2="98.20" y2="350.40"/>
<line x1="91.70" y1="300.40" x2="98.20" y2="300.40"/>
<line x1="85.20" y1="250.40" x2="98.20" y2="250.40"/>
<line x1="91.70" y1="200.40" x2="98.20" y2="200.40"/>
<line x1="85.20" y1="150.40" x2="98.20" y2="150.40"/>
<line x1="91.70" y1="100.40" x2="98.20" y2="100.40"/>
<line x1="85.20" y1="50.40" x2="98.20" y2="50.40"/>
<line x1="91.70" y1="0.40" x2="98.20" y2="0.40"/>
<line x1="98.20" y1="600" x2="98.20" y2="612.00"/>
<line x1="170.36" y1="600" x2="170.36" y2="606.50"/>
<line x1="242.52" y1="600" x2="242.52" y2="612.00"/>
<line x1="314.68" y1="600" x2="314.68" y2="606.50"/>
<line x1="386.84" y1="600" x2="386.84" y2="612.00"/>
<line x1="459.00" y1="600" x2="459.00" y2="606.50"/>
<line x1="531.16" y1="600" x2="531.16" y2="612.00"/>
<line x1="603.32" y1="600" x2="603.32" y2="606.50"/>
<line x1="675.48" y1="600" x2="675.48" y2="612.00"/>
<line x1="747.64" y1="600" x2="747.64" y2="606.50"/>
<line x1="819.80" y1="600" x2="819.80" y2="612.00"/></g>
<text class="t" transform="translate(79.2,559.10) scale(1,1.06)" text-anchor="end" font-size="26">0</text>
<text class="t" transform="translate(79.2,459.10) scale(1,1.06)" text-anchor="end" font-size="26">20</text>
<text class="t" transform="translate(79.2,359.10) scale(1,1.06)" text-anchor="end" font-size="26">40</text>
<text class="t" transform="translate(79.2,259.10) scale(1,1.06)" text-anchor="end" font-size="26">60</text>
<text class="t" transform="translate(79.2,159.10) scale(1,1.06)" text-anchor="end" font-size="26">80</text>
<text class="t" transform="translate(79.2,59.10) scale(1,1.06)" text-anchor="end" font-size="26">100</text>
<text class="t" transform="translate(98.20,639.9) scale(1,1.06)" text-anchor="middle" font-size="26">0</text>
<text class="t" transform="translate(242.52,639.9) scale(1,1.06)" text-anchor="middle" font-size="26">10</text>
<text class="t" transform="translate(386.84,639.9) scale(1,1.06)" text-anchor="middle" font-size="26">20</text>
<text class="t" transform="translate(531.16,639.9) scale(1,1.06)" text-anchor="middle" font-size="26">30</text>
<text class="t" transform="translate(675.48,639.9) scale(1,1.06)" text-anchor="middle" font-size="26">40</text>
<text class="t" transform="translate(819.80,639.9) scale(1,1.06)" text-anchor="middle" font-size="26">50</text>
<text class="t" transform="translate(473.7,687.5) scale(1,1.06)" text-anchor="middle" font-size="32">Scale r (m)</text>
<text class="t" transform="translate(24.0,300.2) rotate(-90) scale(1,1.2)" text-anchor="middle" font-size="30">%</text>
</svg>
</body></html>
